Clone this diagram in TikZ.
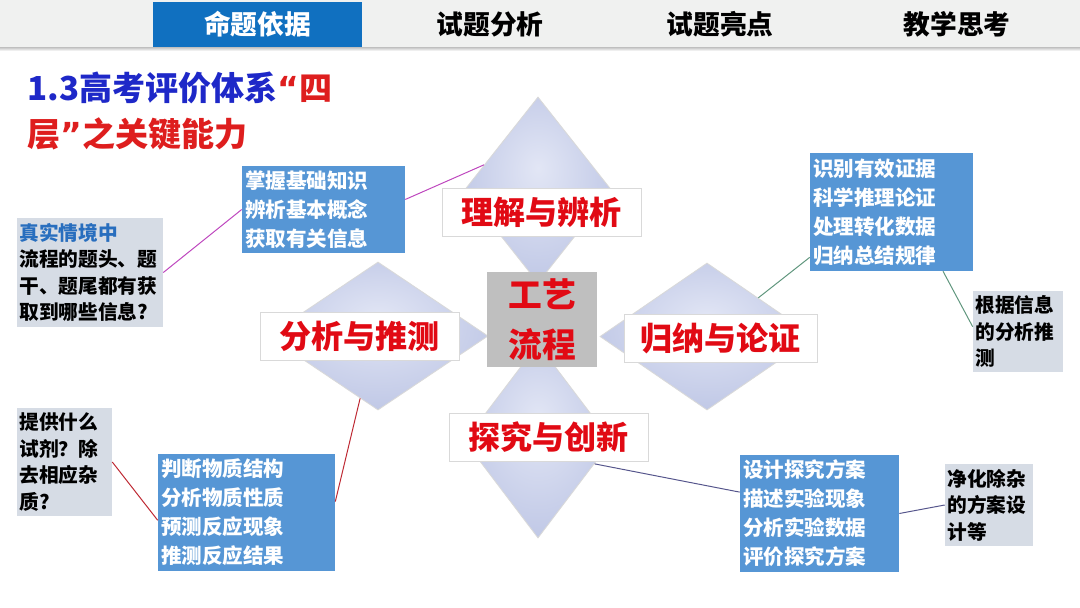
\documentclass[tikz,border=0pt]{standalone}
\usepackage{fontspec}
\setmainfont{Noto Sans CJK SC}
\newfontfamily\quotefont{DejaVu Sans}
\usetikzlibrary{shapes.geometric}

\definecolor{kbblue}{RGB}{86,150,213}
\definecolor{notegray}{RGB}{214,220,229}
\definecolor{tabblue}{RGB}{16,112,192}
\definecolor{barbg}{RGB}{240,241,240}
\definecolor{titleblue}{RGB}{30,40,200}
\definecolor{titlered}{RGB}{222,30,30}
\definecolor{labred}{RGB}{225,10,20}
\definecolor{keyblue}{RGB}{40,110,190}
\definecolor{dmlight}{RGB}{226,230,245}
\definecolor{dmmid}{RGB}{192,200,230}
\definecolor{dmdark}{RGB}{168,179,217}
\definecolor{lnpurple}{RGB}{190,70,190}
\definecolor{lnred}{RGB}{190,40,50}
\definecolor{lngreen}{RGB}{95,150,125}
\definecolor{lnnavy}{RGB}{85,85,140}
\pgfdeclareradialshading{gemshade}{\pgfpoint{0bp}{6bp}}{color(0bp)=(dmlight); color(28bp)=(dmmid); color(50bp)=(dmdark)}

\begin{document}
\begin{tikzpicture}[x=0.025cm, y=-0.025cm,
  gem/.style={diamond, inner sep=0, draw=white!70!gray, line width=0.6pt, shading=gemshade},
  lab/.style={rectangle, fill=white, draw=black!15, inner sep=0, minimum width=4.975cm, minimum height=1.2cm, text=labred, font=\fontsize{22.8}{26}\selectfont\bfseries},
  kbox/.style={rectangle, fill=kbblue, text=white, align=left, inner xsep=0.08cm, inner ysep=0, font=\fontsize{14.6}{20.6}\selectfont\bfseries},
  note/.style={rectangle, fill=notegray, text=black, align=left, inner xsep=0.06cm, inner ysep=0, font=\fontsize{14}{18.9}\selectfont\bfseries},
  tab/.style={font=\fontsize{19}{22}\selectfont\bfseries},
  link/.style={line width=0.7pt}]
  \useasboundingbox (0,0) rectangle (1080,607);
  \fill[white] (0,0) rectangle (1080,607);
  % 顶部导航栏
  \fill[barbg] (0,0) rectangle (1080,47);
  \shade[top color=black!25, bottom color=white] (0,47) rectangle (1080,51);
  \node[tab, fill=tabblue, text=white, minimum width=5.225cm, minimum height=1.125cm, inner sep=0] (tab1) at (257.5,24.5) {命题依据};
  \node[tab] (tab2) at (490,24) {试题分析};
  \node[tab] (tab3) at (720,24) {试题亮点};
  \node[tab] (tab4) at (957,24) {教学思考};
  % 标题
  \node[anchor=west, align=left, inner sep=0, font=\fontsize{23.5}{33.4}\selectfont\bfseries] (title) at (27,111)
    {\textcolor{titleblue}{1.3高考评价体系}\textcolor{titlered}{{\quotefont\bfseries “}四}\\\textcolor{titlered}{层{\quotefont\bfseries ”}之关键能力}};
  % 四个菱形
  \node[gem, minimum width=3.675cm, minimum height=4.65cm] (dtop) at (538,190) {};
  \node[gem, minimum width=5.5cm, minimum height=3.7cm] (dleft) at (378,336) {};
  \node[gem, minimum width=5.35cm, minimum height=3.675cm] (dright) at (707,336.5) {};
  \node[gem, minimum width=3.675cm, minimum height=4.85cm] (dbot) at (538,441) {};
  % 中心与能力标签
  \node[fill=black!25, minimum width=2.75cm, minimum height=2.375cm, inner sep=0, text=labred, align=center,
    font=\fontsize{24}{35.5}\selectfont\bfseries] (core) at (542,319.5) {工艺\\流程};
  \node[lab] (ljie) at (541.5,212.5) {理解与辨析};
  \node[lab] (lfen) at (359.5,336) {分析与推测};
  \node[lab, minimum width=4.825cm] (lgui) at (720.5,338) {归纳与论证};
  \node[lab] (ltan) at (548.5,437) {探究与创新};
  % 蓝色要点框
  \node[kbox, text width=3.915cm, minimum height=2.175cm] (kjie) at (323.5,209.5) {掌握基础知识\\辨析基本概念\\获取有关信息};
  \node[kbox, text width=3.915cm, minimum height=2.95cm] (kgui) at (891.5,212) {识别有效证据\\科学推理论证\\处理转化数据\\归纳总结规律};
  \node[kbox, text width=4.265cm, minimum height=2.925cm] (kfen) at (246.5,512.5) {判断物质结构\\分析物质性质\\预测反应现象\\推测反应结果};
  \node[kbox, text width=3.815cm, minimum height=2.925cm] (ktan) at (819.5,513.5) {设计探究方案\\描述实验现象\\分析实验数据\\评价探究方案};
  % 灰色说明框
  \node[note, text width=3.53cm, minimum height=2.725cm] (njie) at (90,272.5) {\textcolor{keyblue}{真实情境中}\\流程的题头、题\\干、题尾都有获\\取到哪些信息?};
  \node[note, text width=2.13cm, minimum height=2.025cm] (ngui) at (1018,331.5) {根据信息\\的分析推\\测};
  \node[note, text width=2.255cm, minimum height=2.7cm] (nfen) at (64.5,462) {提供什么\\试剂？除\\去相应杂\\质?};
  \node[note, text width=2.08cm, minimum height=2.05cm] (ntan) at (989,505) {净化除杂\\的方案设\\计等};
  % 连线
  \draw[link, lnpurple] (njie.east) -- (kjie.west);
  \draw[link, lnpurple] (kjie.7) -- (dtop.155);
  \draw[link, lnred] (nfen.east) -- (kfen.185);
  \draw[link, lnred] (kfen.7) -- (dleft.254);
  \draw[link, lngreen] (dright.37) -- (kgui.209);
  \draw[link, lngreen] (kgui.311) -- (ngui.174);
  \draw[link, lnnavy] (dbot.338) -- (ktan.165);
  \draw[link, lnnavy] (ktan.east) -- (ntan.west);
\end{tikzpicture}
\end{document}
